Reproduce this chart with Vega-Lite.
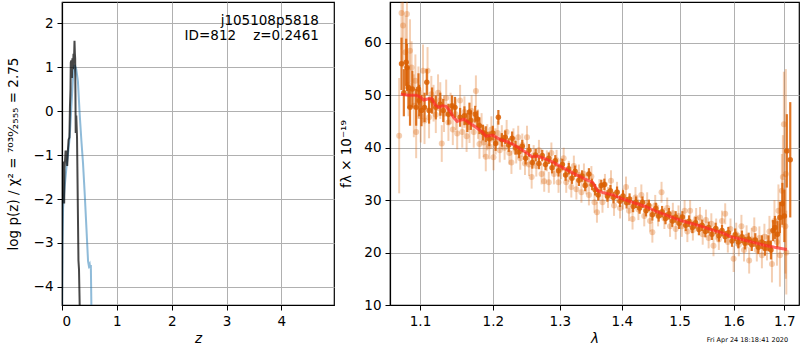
{
"$schema":"https://vega.github.io/schema/vega-lite/v6.json",
"padding":{"left":5,"top":1,"right":0,"bottom":0},
"config":{"font":"DejaVu Sans","view":{"stroke":"black","strokeWidth":1.2},
 "axis":{"domainColor":"black","domainWidth":1.2,"tickColor":"black","tickSize":5,"labelColor":"black","titleColor":"black","gridColor":"#b0b0b0","gridWidth":1,"labelFontSize":13.5,"titleFontSize":13.5,"titleFontWeight":"normal","labelPadding":4,"labelFont":"DejaVu Sans","titleFont":"DejaVu Sans"}},
"datasets":{
"light":[
{"l":1.073,"f":42.3,"e":11},{"l":1.076,"f":65.7,"e":7},{"l":1.078,"f":63.3,"e":8},{"l":1.081,"f":58.2,"e":7},{"l":1.083,"f":65.5,"e":6},{"l":1.085,"f":52.0,"e":6},{"l":1.087,"f":58.5,"e":6},{"l":1.089,"f":55.3,"e":5},{"l":1.092,"f":48.0,"e":6},{"l":1.094,"f":52.8,"e":5},{"l":1.095,"f":43.0,"e":5},{"l":1.098,"f":50.5,"e":5},{"l":1.101,"f":46.0,"e":5},{"l":1.104,"f":54.7,"e":5},{"l":1.106,"f":45.2,"e":4.5},{"l":1.110,"f":54.7,"e":4.5},{"l":1.112,"f":45.8,"e":4},{"l":1.115,"f":50.2,"e":3.5},{"l":1.118,"f":48.5,"e":3.5},{"l":1.121,"f":46.3,"e":3.5},{"l":1.124,"f":50.5,"e":3.5},{"l":1.127,"f":49.0,"e":3.5},{"l":1.129,"f":40.8,"e":3.5},{"l":1.132,"f":46.5,"e":3.5},{"l":1.135,"f":49.5,"e":3.5},{"l":1.138,"f":44.8,"e":3.5},{"l":1.141,"f":47.5,"e":3},{"l":1.144,"f":43.5,"e":3},{"l":1.148,"f":46.4,"e":3},{"l":1.150,"f":42.7,"e":3},{"l":1.154,"f":49.0,"e":3},{"l":1.157,"f":43.0,"e":3},{"l":1.160,"f":46.8,"e":3},{"l":1.163,"f":42.2,"e":3},{"l":1.167,"f":43.9,"e":3},{"l":1.170,"f":47.0,"e":3},{"l":1.173,"f":43.0,"e":3},{"l":1.176,"f":50.8,"e":3},{"l":1.179,"f":44.5,"e":2.8},{"l":1.181,"f":40.7,"e":2.8},{"l":1.184,"f":43.8,"e":2.8},{"l":1.187,"f":41.0,"e":2.8},{"l":1.190,"f":38.3,"e":2.8},{"l":1.192,"f":42.0,"e":2.5},{"l":1.195,"f":40.3,"e":2.5},{"l":1.198,"f":43.5,"e":2.5},{"l":1.201,"f":38.2,"e":2.5},{"l":1.204,"f":41.2,"e":2.5},{"l":1.207,"f":42.8,"e":2.3},{"l":1.210,"f":39.5,"e":2.3},{"l":1.213,"f":42.0,"e":2.3},{"l":1.217,"f":40.0,"e":2.3},{"l":1.220,"f":43.0,"e":2.3},{"l":1.224,"f":39.0,"e":2.2},{"l":1.227,"f":37.2,"e":2.2},{"l":1.230,"f":41.5,"e":2.2},{"l":1.234,"f":39.2,"e":2.2},{"l":1.237,"f":42.0,"e":2.2},{"l":1.240,"f":38.0,"e":2.2},{"l":1.243,"f":40.5,"e":2.2},{"l":1.247,"f":37.0,"e":2.2},{"l":1.250,"f":42.0,"e":2.2},{"l":1.253,"f":36.8,"e":2.2},{"l":1.257,"f":34.4,"e":2.2},{"l":1.260,"f":38.5,"e":2},{"l":1.264,"f":36.5,"e":2},{"l":1.268,"f":39.5,"e":2},{"l":1.272,"f":35.0,"e":2},{"l":1.276,"f":33.6,"e":2},{"l":1.280,"f":37.5,"e":2},{"l":1.283,"f":33.4,"e":2},{"l":1.287,"f":39.0,"e":2},{"l":1.291,"f":35.0,"e":2},{"l":1.295,"f":37.6,"e":2},{"l":1.298,"f":33.4,"e":2},{"l":1.302,"f":36.0,"e":2},{"l":1.306,"f":38.0,"e":2},{"l":1.310,"f":33.4,"e":2},{"l":1.314,"f":35.5,"e":2},{"l":1.318,"f":32.5,"e":2},{"l":1.322,"f":36.5,"e":2},{"l":1.326,"f":32.1,"e":2},{"l":1.330,"f":34.8,"e":2},{"l":1.334,"f":31.5,"e":2},{"l":1.338,"f":35.0,"e":2},{"l":1.342,"f":33.1,"e":2},{"l":1.346,"f":31.0,"e":2},{"l":1.350,"f":34.5,"e":2},{"l":1.355,"f":29.6,"e":2},{"l":1.359,"f":27.7,"e":2},{"l":1.363,"f":32.0,"e":2},{"l":1.368,"f":29.6,"e":2},{"l":1.372,"f":33.0,"e":2},{"l":1.377,"f":30.5,"e":2},{"l":1.382,"f":33.7,"e":2},{"l":1.387,"f":29.0,"e":2},{"l":1.392,"f":31.5,"e":2},{"l":1.397,"f":28.5,"e":2},{"l":1.402,"f":30.2,"e":2},{"l":1.407,"f":32.5,"e":2},{"l":1.412,"f":28.0,"e":2},{"l":1.418,"f":26.4,"e":2},{"l":1.423,"f":30.5,"e":2},{"l":1.428,"f":28.2,"e":2},{"l":1.433,"f":31.0,"e":2},{"l":1.438,"f":27.0,"e":2},{"l":1.443,"f":29.5,"e":2},{"l":1.448,"f":26.0,"e":2},{"l":1.452,"f":23.9,"e":2},{"l":1.457,"f":29.0,"e":2},{"l":1.462,"f":27.0,"e":2},{"l":1.468,"f":31.5,"e":2},{"l":1.473,"f":26.5,"e":2},{"l":1.478,"f":28.5,"e":2},{"l":1.483,"f":25.0,"e":2},{"l":1.488,"f":27.5,"e":2},{"l":1.493,"f":24.5,"e":2},{"l":1.498,"f":27.0,"e":2},{"l":1.504,"f":25.0,"e":2},{"l":1.509,"f":28.0,"e":2},{"l":1.514,"f":24.0,"e":2},{"l":1.519,"f":28.0,"e":2},{"l":1.524,"f":24.3,"e":2},{"l":1.530,"f":26.5,"e":2},{"l":1.537,"f":26.7,"e":2},{"l":1.542,"f":23.5,"e":2},{"l":1.548,"f":26.2,"e":2},{"l":1.553,"f":22.8,"e":2},{"l":1.558,"f":25.5,"e":2},{"l":1.562,"f":21.3,"e":2},{"l":1.567,"f":24.5,"e":2},{"l":1.572,"f":22.5,"e":2},{"l":1.578,"f":26.0,"e":2},{"l":1.584,"f":27.4,"e":2},{"l":1.589,"f":22.0,"e":2},{"l":1.594,"f":24.5,"e":2},{"l":1.600,"f":18.8,"e":2.5},{"l":1.605,"f":23.5,"e":2.2},{"l":1.610,"f":21.5,"e":2.2},{"l":1.615,"f":25.0,"e":2.2},{"l":1.620,"f":20.5,"e":2.2},{"l":1.625,"f":23.0,"e":2.2},{"l":1.630,"f":18.5,"e":2.5},{"l":1.635,"f":22.5,"e":2.2},{"l":1.640,"f":24.5,"e":2.2},{"l":1.645,"f":20.5,"e":2.2},{"l":1.650,"f":22.8,"e":2.2},{"l":1.655,"f":19.5,"e":2.5},{"l":1.660,"f":23.0,"e":2.5},{"l":1.665,"f":21.0,"e":2.5},{"l":1.670,"f":24.0,"e":3},{"l":1.675,"f":17.8,"e":3.5},{"l":1.680,"f":26.0,"e":4},{"l":1.685,"f":22.0,"e":4.5},{"l":1.688,"f":28.0,"e":5},{"l":1.691,"f":19.5,"e":6},{"l":1.695,"f":31.8,"e":7},{"l":1.697,"f":34.4,"e":8},{"l":1.699,"f":44.5,"e":10},{"l":1.702,"f":25.0,"e":9},{"l":1.703,"f":35.0,"e":20},{"l":1.704,"f":20.0,"e":8}
],
"dark":[
{"l":1.076,"f":56.0,"e":5},{"l":1.079,"f":50.5,"e":4.5},{"l":1.082,"f":56.3,"e":4.5},{"l":1.083,"f":55.3,"e":4.5},{"l":1.085,"f":51.5,"e":4},{"l":1.087,"f":47.7,"e":3.5},{"l":1.090,"f":51.2,"e":3.5},{"l":1.095,"f":47.7,"e":3.5},{"l":1.098,"f":51.2,"e":3},{"l":1.099,"f":49.0,"e":3},{"l":1.102,"f":47.1,"e":3},{"l":1.106,"f":47.7,"e":2.8},{"l":1.109,"f":52.5,"e":2.5},{"l":1.112,"f":47.1,"e":2.5},{"l":1.116,"f":49.0,"e":2.5},{"l":1.121,"f":47.7,"e":2.3},{"l":1.127,"f":48.3,"e":2.2},{"l":1.131,"f":47.1,"e":2.2},{"l":1.138,"f":46.4,"e":2},{"l":1.143,"f":48.0,"e":2},{"l":1.147,"f":47.7,"e":2},{"l":1.154,"f":45.8,"e":1.8},{"l":1.160,"f":46.1,"e":1.8},{"l":1.164,"f":44.8,"e":1.8},{"l":1.167,"f":46.8,"e":1.8},{"l":1.169,"f":45.2,"e":1.8},{"l":1.175,"f":46.4,"e":1.6},{"l":1.178,"f":45.5,"e":1.6},{"l":1.181,"f":44.2,"e":1.6},{"l":1.186,"f":42.9,"e":1.5},{"l":1.190,"f":42.6,"e":1.5},{"l":1.195,"f":41.7,"e":1.4},{"l":1.200,"f":42.8,"e":1.4},{"l":1.204,"f":40.8,"e":1.4},{"l":1.208,"f":45.8,"e":1.4},{"l":1.213,"f":41.5,"e":1.3},{"l":1.218,"f":42.0,"e":1.3},{"l":1.223,"f":40.5,"e":1.3},{"l":1.228,"f":41.8,"e":1.3},{"l":1.233,"f":40.0,"e":1.3},{"l":1.238,"f":39.2,"e":1.2},{"l":1.243,"f":40.3,"e":1.2},{"l":1.248,"f":38.0,"e":1.2},{"l":1.253,"f":39.5,"e":1.2},{"l":1.258,"f":37.2,"e":1.2},{"l":1.263,"f":38.6,"e":1.2},{"l":1.268,"f":37.0,"e":1.1},{"l":1.273,"f":38.5,"e":1.1},{"l":1.278,"f":36.8,"e":1.1},{"l":1.283,"f":38.0,"e":1.1},{"l":1.288,"f":36.2,"e":1.1},{"l":1.293,"f":37.5,"e":1.1},{"l":1.298,"f":35.6,"e":1.1},{"l":1.304,"f":36.8,"e":1.1},{"l":1.309,"f":34.8,"e":1.1},{"l":1.314,"f":36.0,"e":1.1},{"l":1.319,"f":34.2,"e":1.1},{"l":1.324,"f":35.5,"e":1.1},{"l":1.330,"f":33.8,"e":1.1},{"l":1.335,"f":34.6,"e":1.1},{"l":1.340,"f":32.8,"e":1.1},{"l":1.346,"f":35.0,"e":1.1},{"l":1.351,"f":33.0,"e":1.1},{"l":1.356,"f":32.0,"e":1.1},{"l":1.361,"f":31.0,"e":1.1},{"l":1.366,"f":32.8,"e":1.1},{"l":1.371,"f":33.0,"e":1.1},{"l":1.376,"f":30.8,"e":1.1},{"l":1.381,"f":31.8,"e":1.1},{"l":1.386,"f":30.5,"e":1.1},{"l":1.392,"f":31.5,"e":1.1},{"l":1.397,"f":29.8,"e":1.1},{"l":1.402,"f":30.8,"e":1.1},{"l":1.408,"f":29.5,"e":1.1},{"l":1.413,"f":30.2,"e":1.1},{"l":1.419,"f":28.8,"e":1.1},{"l":1.424,"f":29.6,"e":1.1},{"l":1.430,"f":28.5,"e":1.1},{"l":1.435,"f":29.6,"e":1.1},{"l":1.441,"f":28.0,"e":1.1},{"l":1.446,"f":29.0,"e":1.1},{"l":1.452,"f":27.2,"e":1.1},{"l":1.458,"f":28.4,"e":1.1},{"l":1.463,"f":27.0,"e":1.1},{"l":1.469,"f":27.8,"e":1.1},{"l":1.475,"f":26.5,"e":1.1},{"l":1.481,"f":27.4,"e":1.1},{"l":1.487,"f":26.0,"e":1.1},{"l":1.493,"f":26.8,"e":1.1},{"l":1.499,"f":25.6,"e":1.1},{"l":1.505,"f":26.8,"e":1.1},{"l":1.511,"f":25.2,"e":1.1},{"l":1.517,"f":26.0,"e":1.1},{"l":1.523,"f":24.8,"e":1.1},{"l":1.529,"f":25.7,"e":1.1},{"l":1.535,"f":24.4,"e":1.1},{"l":1.541,"f":25.2,"e":1.1},{"l":1.547,"f":24.0,"e":1.1},{"l":1.553,"f":24.8,"e":1.1},{"l":1.559,"f":23.5,"e":1.1},{"l":1.566,"f":24.6,"e":1.1},{"l":1.572,"f":23.2,"e":1.1},{"l":1.578,"f":24.2,"e":1.1},{"l":1.584,"f":23.0,"e":1.1},{"l":1.590,"f":23.8,"e":1.1},{"l":1.597,"f":22.2,"e":1.1},{"l":1.603,"f":23.4,"e":1.2},{"l":1.609,"f":22.0,"e":1.2},{"l":1.616,"f":23.0,"e":1.2},{"l":1.622,"f":21.8,"e":1.2},{"l":1.629,"f":22.6,"e":1.2},{"l":1.635,"f":21.5,"e":1.2},{"l":1.642,"f":22.4,"e":1.3},{"l":1.648,"f":21.0,"e":1.3},{"l":1.655,"f":22.0,"e":1.3},{"l":1.661,"f":20.8,"e":1.4},{"l":1.668,"f":21.8,"e":1.5},{"l":1.673,"f":20.5,"e":1.8},{"l":1.677,"f":24.2,"e":2},{"l":1.681,"f":24.8,"e":2.2},{"l":1.686,"f":23.5,"e":2.5},{"l":1.691,"f":26.7,"e":3},{"l":1.696,"f":29.3,"e":4},{"l":1.700,"f":27.0,"e":5},{"l":1.705,"f":39.4,"e":7},{"l":1.712,"f":37.7,"e":11}
],
"model":[
{"l":1.075,"f":50.2},{"l":1.085,"f":50.0},{"l":1.095,"f":50.0},{"l":1.100,"f":49.7},{"l":1.105,"f":49.1},{"l":1.110,"f":49.3},{"l":1.115,"f":49.4},{"l":1.120,"f":48.2},{"l":1.125,"f":47.7},{"l":1.130,"f":48.0},{"l":1.135,"f":47.9},{"l":1.140,"f":47.0},{"l":1.145,"f":45.8},{"l":1.150,"f":45.0},{"l":1.155,"f":45.3},{"l":1.160,"f":45.4},{"l":1.165,"f":44.9},{"l":1.175,"f":44.0},{"l":1.185,"f":43.0},{"l":1.190,"f":42.2},{"l":1.200,"f":42.4},{"l":1.210,"f":41.6},{"l":1.220,"f":41.2},{"l":1.230,"f":40.6},{"l":1.240,"f":39.8},{"l":1.250,"f":39.0},{"l":1.257,"f":38.3},{"l":1.265,"f":38.4},{"l":1.275,"f":38.0},{"l":1.290,"f":37.2},{"l":1.300,"f":36.5},{"l":1.320,"f":35.2},{"l":1.340,"f":34.0},{"l":1.352,"f":33.4},{"l":1.360,"f":31.8},{"l":1.370,"f":31.4},{"l":1.385,"f":31.0},{"l":1.400,"f":30.3},{"l":1.420,"f":29.5},{"l":1.440,"f":28.8},{"l":1.460,"f":27.8},{"l":1.480,"f":27.0},{"l":1.500,"f":26.2},{"l":1.520,"f":25.6},{"l":1.540,"f":25.0},{"l":1.560,"f":24.3},{"l":1.580,"f":23.7},{"l":1.595,"f":23.0},{"l":1.600,"f":22.9},{"l":1.620,"f":22.4},{"l":1.640,"f":21.9},{"l":1.660,"f":21.4},{"l":1.680,"f":21.0},{"l":1.705,"f":20.6}
]
},
"hconcat":[
{
"width":272,"height":303,
"encoding":{
 "x":{"field":"z","type":"quantitative","scale":{"domain":[0,4.96],"nice":false,"zero":false},
  "axis":{"values":[0,1,2,3,4],"format":"d","title":"z","titleFontStyle":"italic","titlePadding":4,"grid":true}},
 "y":{"field":"v","type":"quantitative","scale":{"domain":[-4.41,2.48],"nice":false,"zero":false},
  "axis":{"values":[-4,-3,-2,-1,0,1,2],"format":"d","title":"log p(z) / χ² = ⁷⁰³⁰⁄₂₅₅₅ = 2.75","minExtent":30,"maxExtent":30,"titlePadding":12,"grid":true}}
},
"layer":[
 {"data":{"values":[{"z":0.0,"v":-4.45},{"z":0.008,"v":-3.0},{"z":0.02,"v":-2.2},{"z":0.05,"v":-1.7},{"z":0.08,"v":-1.3},{"z":0.11,"v":-0.98},{"z":0.14,"v":-0.6},{"z":0.18,"v":0.3},{"z":0.2,"v":0.76},{"z":0.232,"v":1.05},{"z":0.26,"v":0.95},{"z":0.29,"v":0.68},{"z":0.323,"v":-0.08},{"z":0.354,"v":-0.68},{"z":0.383,"v":-1.18},{"z":0.415,"v":-1.9},{"z":0.445,"v":-2.65},{"z":0.475,"v":-3.41},{"z":0.49,"v":-3.52},{"z":0.505,"v":-3.48},{"z":0.515,"v":-3.58},{"z":0.526,"v":-3.5},{"z":0.536,"v":-4.45}]},
  "mark":{"type":"line","color":"#1f77b4","opacity":0.5,"strokeWidth":2,"clip":true}},
 {"data":{"values":[{"z":0.0,"v":-4.45},{"z":0.006,"v":-2.0},{"z":0.012,"v":-1.2},{"z":0.02,"v":-1.15},{"z":0.03,"v":-1.25},{"z":0.04,"v":-2.1},{"z":0.045,"v":-1.3},{"z":0.055,"v":-1.15},{"z":0.065,"v":-0.9},{"z":0.075,"v":-1.0},{"z":0.085,"v":-0.9},{"z":0.095,"v":-1.25},{"z":0.105,"v":-0.95},{"z":0.12,"v":-0.65},{"z":0.135,"v":-0.6},{"z":0.145,"v":0.1},{"z":0.155,"v":0.5},{"z":0.16,"v":1.1},{"z":0.17,"v":1.15},{"z":0.18,"v":0.75},{"z":0.19,"v":1.2},{"z":0.2,"v":0.95},{"z":0.21,"v":1.3},{"z":0.22,"v":1.2},{"z":0.228,"v":1.6},{"z":0.235,"v":1.3},{"z":0.24,"v":1.2},{"z":0.245,"v":0.4},{"z":0.25,"v":-0.5},{"z":0.26,"v":-0.1},{"z":0.274,"v":-0.6},{"z":0.3,"v":-3.4},{"z":0.31,"v":-3.6},{"z":0.323,"v":-4.45}]},
  "mark":{"type":"line","color":"black","opacity":0.72,"strokeWidth":2,"clip":true}},
 {"data":{"values":[{"z":4.684,"v":2.045,"t":"j105108p5818"},{"z":4.684,"v":1.705,"t":"ID=812\u00a0\u00a0\u00a0\u00a0z=0.2461"}]},
  "mark":{"type":"text","align":"right","baseline":"middle","fontSize":13.5,"color":"black"},
  "encoding":{"text":{"field":"t"}}}
]
},
{
"width":409,"height":303,
"encoding":{
 "x":{"field":"l","type":"quantitative","scale":{"type":"log","domain":[1.0613,1.730],"nice":false,"zero":false},
  "axis":{"values":[1.1,1.2,1.3,1.4,1.5,1.6,1.7],"format":".1f","title":"λ","titleFontStyle":"italic","titlePadding":4,"grid":true}},
 "y":{"field":"f","type":"quantitative","scale":{"domain":[10,67.8],"nice":false,"zero":false},
  "axis":{"values":[10,20,30,40,50,60],"format":"d","title":"fλ × 10⁻¹⁹","minExtent":28,"maxExtent":28,"titlePadding":9,"grid":true}}
},
"layer":[
 {"data":{"name":"light"},"mark":{"type":"errorbar","color":"#d95f02","opacity":0.3,"thickness":2,"clip":true},"encoding":{"yError":{"field":"e"}}},
 {"data":{"name":"light"},"mark":{"type":"point","filled":true,"size":36,"color":"#d95f02","opacity":0.3,"clip":true}},
 {"data":{"name":"dark"},"mark":{"type":"errorbar","color":"#d95f02","opacity":0.85,"thickness":2.2,"clip":true},"encoding":{"yError":{"field":"e"}}},
 {"data":{"name":"dark"},"mark":{"type":"point","filled":true,"size":30,"color":"#d95f02","opacity":0.85,"clip":true}},
 {"data":{"name":"model"},"mark":{"type":"line","color":"#ff2a2a","opacity":0.7,"strokeWidth":3,"clip":true}},
 {"data":{"values":[{"l":1.7075,"f":3.4,"t":"Fri Apr 24 18:18:41 2020"}]},"mark":{"type":"text","align":"right","baseline":"middle","fontSize":6.5,"color":"black"},"encoding":{"text":{"field":"t"}}}
]
}
],
"spacing":56,
"bounds":"flush"
}
